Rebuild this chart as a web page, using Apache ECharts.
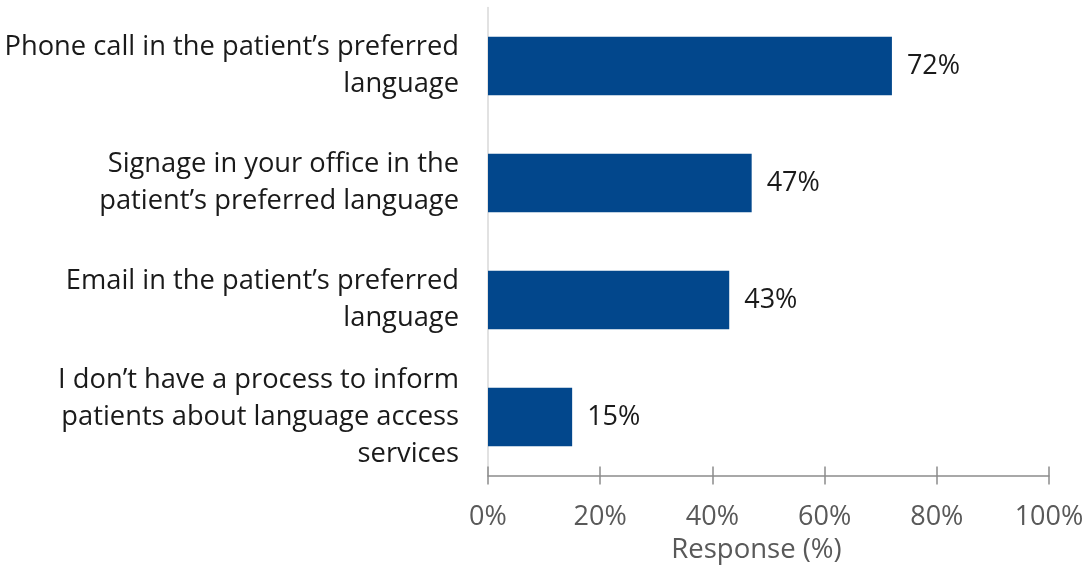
<!DOCTYPE html>
<html>
<head>
<meta charset="utf-8">
<script src="https://cdn.jsdelivr.net/npm/echarts@6/dist/echarts.min.js"></script>
<style>
  html, body { margin: 0; padding: 0; background: #fff; }
  #chart { width: 1082px; height: 565px; }
</style>
</head>
<body>
<div id="chart"></div>
<script>
// Survey answers, listed top to bottom
const categories = [
  "Phone call in the patient\u2019s preferred\nlanguage",
  "Signage in your office in the\npatient\u2019s preferred language",
  "Email in the patient\u2019s preferred\nlanguage",
  "I don\u2019t have a process to inform\npatients about language access\nservices"
];
const responses = [72, 47, 43, 15];
const xTicks = [0, 20, 40, 60, 80, 100];

const FONT = "'Open Sans', 'Noto Sans', sans-serif";
const chart = echarts.init(document.getElementById('chart'));

chart.setOption({
  animation: false,
  grid: { left: 488, right: 33, top: 7.5, bottom: 89.5, containLabel: false, outerBoundsMode: 'none' },
  xAxis: [
    {
      type: 'value',
      min: xTicks[0],
      max: xTicks[xTicks.length - 1],
      interval: xTicks[1] - xTicks[0],
      name: 'Response (%)',
      nameLocation: 'middle',
      nameGap: 61,
      nameTextStyle: { fontFamily: FONT, fontSize: 27.5, color: '#595959', padding: [0, 24, 0, 0] },
      axisLine: { show: true, lineStyle: { color: '#8c8c8c', width: 1.5 } },
      axisTick: { show: true, inside: false, length: 9, lineStyle: { color: '#8c8c8c', width: 1.5 } },
      axisLabel: { formatter: '{value}%', fontFamily: FONT, fontSize: 27, color: '#595959', margin: 28 },
      splitLine: { show: false }
    },
    {
      type: 'value',
      position: 'bottom',
      min: xTicks[0],
      max: xTicks[xTicks.length - 1],
      interval: xTicks[1] - xTicks[0],
      axisLine: { show: false },
      axisTick: { show: true, inside: true, length: 9, lineStyle: { color: '#8c8c8c', width: 1.5 } },
      axisLabel: { show: false },
      splitLine: { show: false }
    }
  ],
  yAxis: {
    type: 'category',
    data: categories,
    inverse: true,
    axisLine: { show: true, lineStyle: { color: '#d9d9d9', width: 1.5 } },
    axisTick: { show: false },
    axisLabel: {
      fontFamily: FONT, fontSize: 27.3, color: '#1a1a1a',
      lineHeight: 37, margin: 29, align: 'right'
    }
  },
  series: [{
    type: 'bar',
    data: responses,
    barWidth: '50%',
    itemStyle: { color: '#02478c' },
    label: {
      show: true,
      position: 'right',
      distance: 15,
      formatter: '{c}%',
      fontFamily: FONT, fontSize: 27, color: '#1a1a1a'
    }
  }]
});
</script>
</body>
</html>
